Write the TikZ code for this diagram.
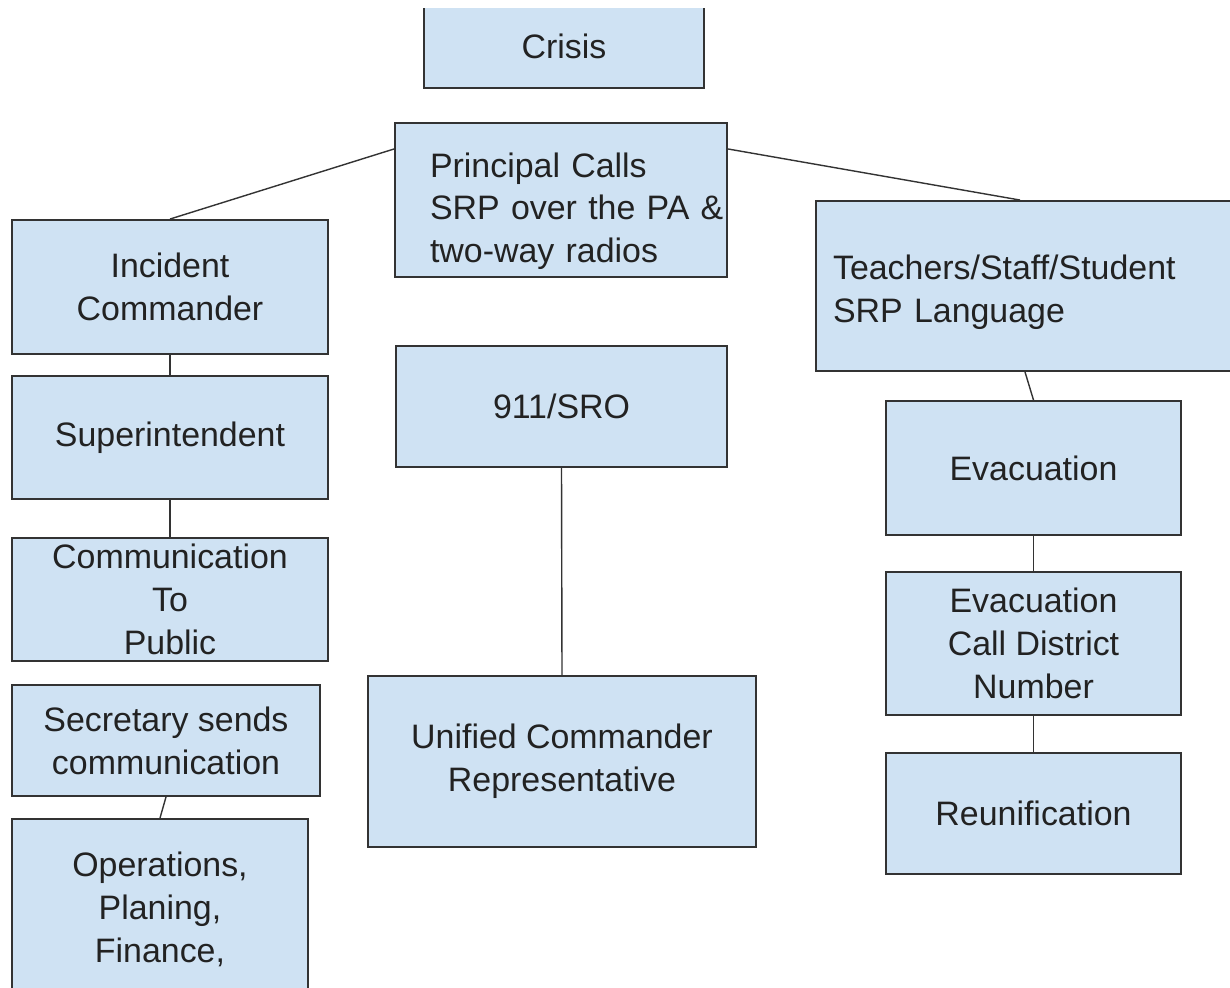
\documentclass[tikz,border=0pt]{standalone}
\usepackage{fontspec}
\setmainfont{Liberation Sans}
\definecolor{boxfill}{RGB}{207, 226, 243}
\definecolor{boxline}{RGB}{51, 51, 51}
\definecolor{inkgray}{RGB}{34, 34, 34}
\usetikzlibrary{positioning, calc}

\begin{document}
\begin{tikzpicture}[x=0.02cm, y=-0.02cm,
    srpbox/.style={draw=boxline, fill=boxfill, line width=1.1pt, inner sep=0pt, align=center,
      text=inkgray, font=\fontsize{19.3}{24.4}\selectfont},
    srplink/.style={draw=boxline, line width=0.8pt}]
  % Canvas
  \useasboundingbox (0, 0) rectangle (1230, 987);
  \clip (0, 8) rectangle (1230, 987);

  % Top
  \node[srpbox, minimum width=5.6cm, minimum height=1.68cm] (crisis) at (564, 46) {Crisis};
  \node[srpbox, align=left, text width=5.24cm, inner xsep=0.7cm, minimum height=3.08cm] (principal) at (561, 200) {
    \rule{0pt}{0.94cm}\mbox{Principal Calls}\\
    \mbox{SRP over the PA \&}\\
    \mbox{two-way radios}
  };

  % Left column
  \node[srpbox, minimum width=6.32cm, minimum height=2.68cm] (incident) at (170, 287) {Incident\\Commander};
  \node[srpbox, minimum width=6.32cm, minimum height=2.46cm] (superint) at (170, 437.5) {Superintendent};
  \node[srpbox, minimum width=6.32cm, minimum height=2.46cm] (commpub) at (170, 599.5) {Communication\\To\\Public};
  \node[srpbox, minimum width=6.16cm, minimum height=2.22cm] (secretary) at (166, 740.5) {Secretary sends\\communication};
  \node[srpbox, minimum width=5.92cm, minimum height=3.62cm] (operations) at (160, 909.5) {Operations,\\Planing,\\Finance,};

  % Middle column
  \node[srpbox, minimum width=6.62cm, minimum height=2.42cm] (nine11) at (561.5, 406.5) {911/SRO};
  \node[srpbox, minimum width=7.76cm, minimum height=3.42cm] (unified) at (562, 761.5) {Unified Commander\\Representative};

  % Right column
  \node[srpbox, align=left, text width=8cm, inner xsep=0.34cm, minimum height=3.4cm] (teachers) at (1033, 286) {
    \rule{0pt}{0.74cm}Teachers/Staff/Student\\
    SRP Language
  };
  \node[srpbox, minimum width=5.9cm, minimum height=2.68cm] (evac) at (1033.5, 468) {Evacuation};
  \node[srpbox, minimum width=5.9cm, minimum height=2.86cm] (evaccall) at (1033.5, 643.5) {Evacuation\\Call District\\Number};
  \node[srpbox, minimum width=5.9cm, minimum height=2.42cm] (reunif) at (1033.5, 813.5) {Reunification};

  % Connectors
  \draw[srplink] (principal.163) -- (incident.north);
  \draw[srplink] (principal.17) -- ([xshift=-0.26cm]teachers.north);
  \draw[srplink] (incident.south) -- (superint.north);
  \draw[srplink] (superint.south) -- (commpub.north);
  \draw[srplink] (secretary.south) -- (operations.north);
  \draw[srplink] (nine11.south) -- (unified.north);
  \draw[srplink] ([xshift=-0.16cm]teachers.south) -- (evac.north);
  \draw[srplink] (evac.south) -- (evaccall.north);
  \draw[srplink] (evaccall.south) -- (reunif.north);
\end{tikzpicture}
\end{document}
